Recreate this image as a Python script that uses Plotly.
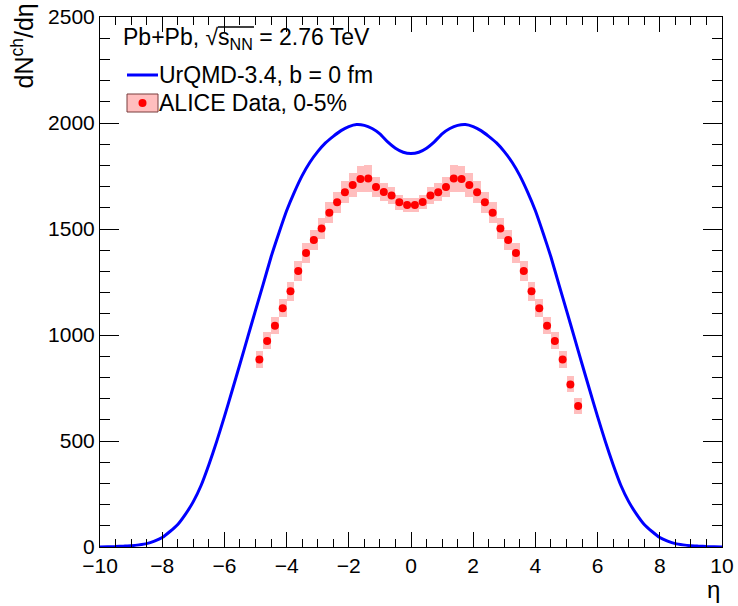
import plotly.graph_objects as go

# ---------------- data ----------------
# ALICE data (0-5%), dNch/deta
alice_eta = [-4.875, -4.625, -4.375, -4.125, -3.875, -3.625, -3.375, -3.125,
             -2.875, -2.625, -2.375, -2.125, -1.875, -1.625, -1.375, -1.125,
             -0.875, -0.625, -0.375, -0.125, 0.125, 0.375, 0.625, 0.875,
             1.125, 1.375, 1.625, 1.875, 2.125, 2.375, 2.625, 2.875,
             3.125, 3.375, 3.625, 3.875, 4.125, 4.375, 4.625, 4.875,
             5.125, 5.375]
alice_val = [885, 972, 1044, 1126, 1206, 1302, 1387, 1448,
             1502, 1577, 1626, 1673, 1708, 1736, 1738, 1698,
             1675, 1658, 1626, 1613, 1613, 1627, 1658, 1673,
             1698, 1738, 1736, 1708, 1673, 1626, 1577, 1502,
             1448, 1387, 1302, 1206, 1126, 1044, 972, 885,
             767, 665]
alice_err = [39, 40, 41, 42, 44, 46, 47, 48,
             49, 50, 50, 52, 56, 62, 62, 48,
             42, 38, 34, 33, 33, 34, 38, 42,
             48, 62, 62, 56, 52, 50, 50, 49,
             48, 47, 46, 44, 42, 41, 40, 39,
             38, 37]
alice_binw = [0.25] * len(alice_eta)

# UrQMD-3.4, b = 0 fm
urqmd_eta = [-10.0, -9.75, -9.5, -9.25, -9.0, -8.75, -8.5, -8.25, -8.0, -7.75,
             -7.5, -7.25, -7.0, -6.75, -6.5, -6.25, -6.0, -5.75, -5.5, -5.25,
             -5.0, -4.75, -4.5, -4.25, -4.0, -3.75, -3.5, -3.25, -3.0, -2.75,
             -2.5, -2.25, -2.0, -1.75, -1.5, -1.25, -1.0, -0.75, -0.5, -0.25,
             0.0, 0.25, 0.5, 0.75, 1.0, 1.25, 1.5, 1.75, 2.0, 2.25,
             2.5, 2.75, 3.0, 3.25, 3.5, 3.75, 4.0, 4.25, 4.5, 4.75,
             5.0, 5.25, 5.5, 5.75, 6.0, 6.25, 6.5, 6.75, 7.0, 7.25,
             7.5, 7.75, 8.0, 8.25, 8.5, 8.75, 9.0, 9.25, 9.5, 9.75, 10.0]
urqmd_val = [0.5, 1, 2, 4, 6, 10, 16, 28, 45, 73,
             106, 155, 214, 290, 388, 497, 615, 738, 863, 990,
             1116, 1241, 1368, 1480, 1586, 1674, 1752, 1815, 1865, 1906,
             1937, 1964, 1983, 1993, 1989, 1974, 1949, 1911, 1881, 1862,
             1856, 1862, 1881, 1911, 1949, 1974, 1989, 1993, 1983, 1964,
             1937, 1906, 1865, 1815, 1752, 1674, 1586, 1480, 1368, 1241,
             1116, 990, 863, 738, 615, 497, 388, 290, 214, 155,
             106, 73, 45, 28, 16, 10, 6, 4, 2, 1, 0.5]

x_ticks = [-10, -8, -6, -4, -2, 0, 2, 4, 6, 8, 10]
y_ticks = [0, 500, 1000, 1500, 2000, 2500]

FONT = "Liberation Sans"
PINK = "rgb(255,190,190)"
RED = "rgb(255,0,0)"
BLUE = "rgb(0,0,255)"

fig = go.Figure()

# systematic error boxes
fig.add_trace(go.Bar(
    x=alice_eta,
    y=[2 * e for e in alice_err],
    base=[v - e for v, e in zip(alice_val, alice_err)],
    width=alice_binw,
    marker=dict(color=PINK, line=dict(width=0)),
    showlegend=False, hoverinfo="skip",
))

# UrQMD curve
fig.add_trace(go.Scatter(
    x=urqmd_eta, y=urqmd_val, mode="lines",
    line=dict(color=BLUE, width=3, shape="spline", smoothing=0.5),
    showlegend=False,
))

# ALICE points
fig.add_trace(go.Scatter(
    x=alice_eta, y=alice_val, mode="markers",
    marker=dict(color=RED, size=8, symbol="circle", line=dict(width=0)),
    showlegend=False,
))

# plot area on screen: x 100..722, y 17..547 (body margin removed below)
L, R, T, B = 100, 16, 17, 59
W, H = 738, 606
PW, PH = W - L - R, H - T - B


def px(xs):
    return (xs - L) / PW


def py(ys):
    return (H - B - ys) / PH


axis_common = dict(
    showgrid=False, zeroline=False, showline=True, linecolor="black",
    linewidth=1, mirror="allticks", ticks="inside", tickcolor="black",
    tickwidth=1, automargin=False,
    tickfont=dict(family=FONT, size=21, color="black"),
)

fig.update_layout(
    width=W, height=H,
    margin=dict(l=L, r=R, t=T, b=B, autoexpand=False),
    paper_bgcolor="white", plot_bgcolor="white",
    showlegend=False, bargap=0,
    font=dict(family=FONT, color="black"),
    xaxis=dict(range=[-10, 10], tickvals=x_ticks, ticklen=15,
               minor=dict(dtick=0.5, ticklen=8, ticks="inside",
                          tickcolor="black", tickwidth=1),
               **axis_common),
    yaxis=dict(range=[0, 2500], tickvals=y_ticks, ticklen=19,
               minor=dict(dtick=100, ticklen=10, ticks="inside",
                          tickcolor="black", tickwidth=1),
               **axis_common),
)

annos = [
    # axis titles
    dict(text="η", xref="paper", yref="paper", x=1, y=0, xanchor="right",
         yanchor="middle", yshift=-42, showarrow=False,
         font=dict(family=FONT, size=24)),
    dict(text="dN<sup>ch</sup>/dη", xref="paper", yref="paper",
         x=px(23), y=py(2), xanchor="center", yanchor="top", textangle=-90,
         showarrow=False, font=dict(family=FONT, size=25)),
    # legend texts
    dict(text="Pb+Pb, √s<sub>NN</sub> = 2.76 TeV", xref="paper", yref="paper",
         x=px(121), y=py(38), xanchor="left", yanchor="middle",
         showarrow=False, font=dict(family=FONT, size=23)),
    dict(text="UrQMD-3.4, b = 0 fm", xref="paper", yref="paper",
         x=px(157), y=py(75), xanchor="left", yanchor="middle",
         showarrow=False, font=dict(family=FONT, size=23)),
    dict(text="ALICE Data, 0-5%", xref="paper", yref="paper",
         x=px(157), y=py(103), xanchor="left", yanchor="middle",
         showarrow=False, font=dict(family=FONT, size=23)),
]
fig.update_layout(annotations=annos)

shapes = [
    # overline of the square root
    dict(type="line", xref="paper", yref="paper", x0=px(218), x1=px(254),
         y0=py(27), y1=py(27), line=dict(color="black", width=1.5)),
    # legend line sample
    dict(type="line", xref="paper", yref="paper", x0=px(127), x1=px(158),
         y0=py(75), y1=py(75), line=dict(color=BLUE, width=3)),
    # legend box sample
    dict(type="rect", xref="paper", yref="paper", x0=px(127), x1=px(158),
         y0=py(94), y1=py(112), fillcolor=PINK,
         line=dict(color="rgb(120,60,60)", width=1)),
    dict(type="circle", xref="paper", yref="paper", x0=px(138.5), x1=px(146.5),
         y0=py(99), y1=py(107), fillcolor=RED, line=dict(width=0)),
]
fig.update_layout(shapes=shapes)

fig.write_html(
    "out.html",
    config={"displayModeBar": False},
    post_script="document.body.style.margin='0';"
                "document.body.style.overflow='hidden';",
)
